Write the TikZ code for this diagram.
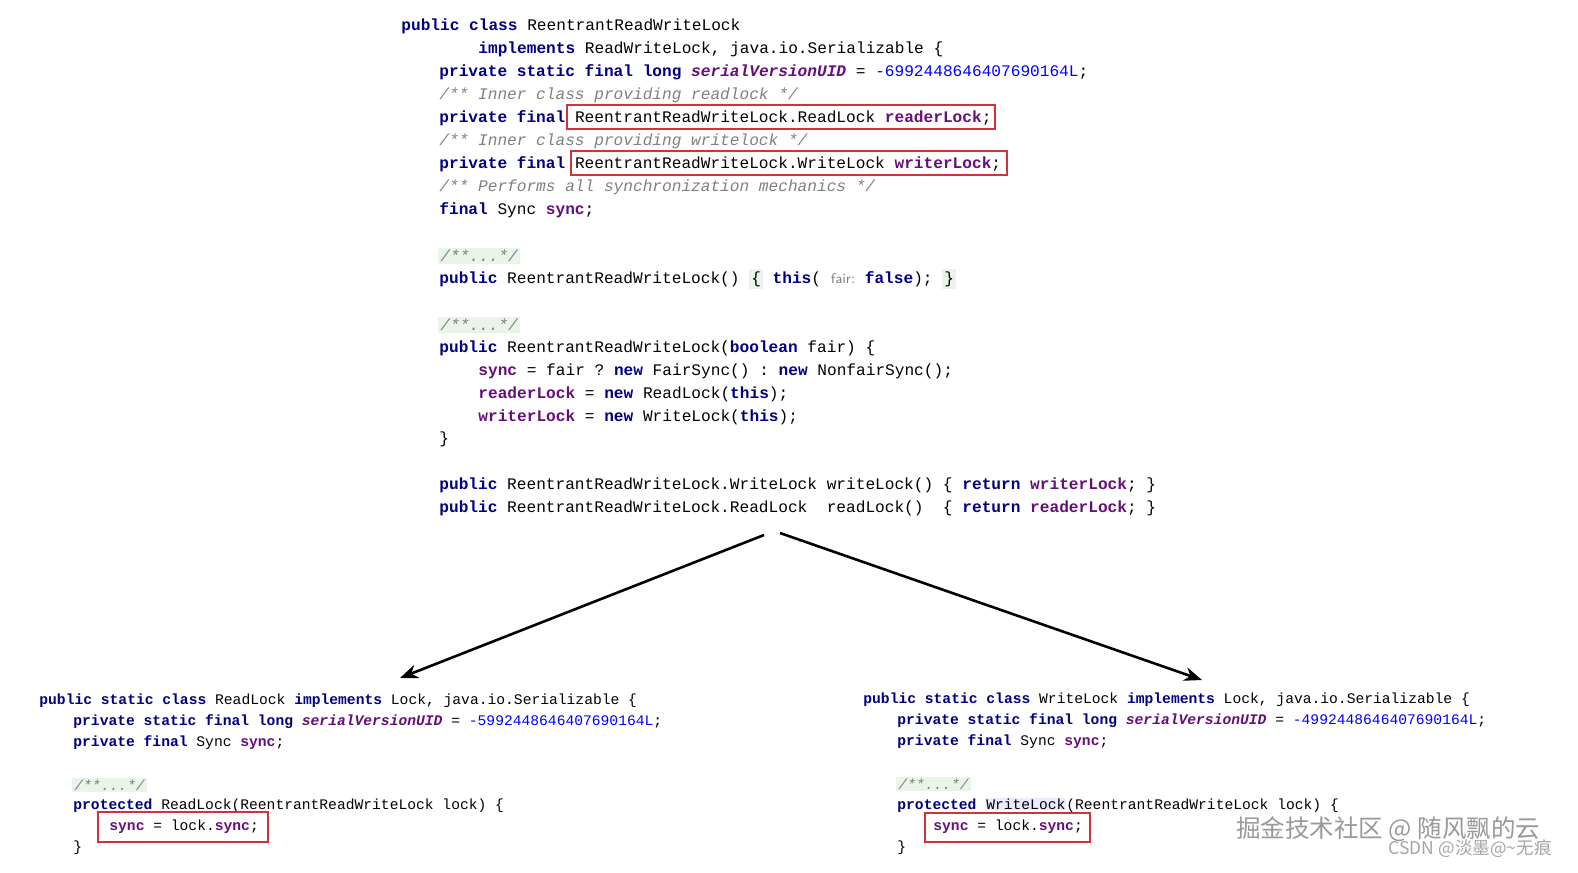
\documentclass[tikz,border=0pt]{standalone}
\usepackage{fontspec}
\usetikzlibrary{arrows.meta}
\setmonofont{Liberation Mono}
\newfontfamily\cjkf{Noto Sans CJK SC}
\definecolor{kwc}{HTML}{000080}
\definecolor{fdc}{HTML}{660E7A}
\definecolor{nmc}{HTML}{0000FF}
\definecolor{cmc}{HTML}{808080}
\definecolor{hlg}{HTML}{EAF5EA}
\definecolor{boxred}{HTML}{D0343A}
\newcommand\Kw[1]{{\bfseries\color{kwc}#1}}
\newcommand\Fd[1]{{\bfseries\color{fdc}#1}}
\newcommand\Fi[1]{{\bfseries\itshape\color{fdc}#1}}
\newcommand\Nm[1]{{\color{nmc}#1}}
\newcommand\Cm[1]{{\itshape\color{cmc}#1}}
\newcommand\Hl[1]{{\setlength\fboxsep{1pt}\colorbox{hlg}{#1}}}
\newcommand\topf{\ttfamily\fontsize{8.1}{10}\selectfont}
\newcommand\botf{\ttfamily\fontsize{7.35}{9}\selectfont}
\begin{document}
\begin{tikzpicture}[x=0.5bp,y=-0.5bp,
  top/.style={anchor=west,inner sep=0,font=\topf},
  bot/.style={anchor=west,inner sep=0,font=\botf},
  rbox/.style={draw=boxred,line width=0.8pt},
  arr/.style={-{Stealth[length=9pt,width=7pt]},line width=1.3pt}]
\useasboundingbox[fill=white] (0,0) rectangle (1578,872);
% top block
\node[top] (t1) at (401,26) {\Kw{public class} ReentrantReadWriteLock};
\node[top] (t2) at (478,49) {\Kw{implements} ReadWriteLock, java.io.Serializable \{};
\node[top] (t3) at (439,72) {\Kw{private static final long} \Fi{serialVersionUID} = \Nm{-6992448646407690164L};};
\node[top] (t4) at (439,95) {\Cm{/** Inner class providing readlock */}};
\node[top] (t5) at (439,118) {\Kw{private final} ReentrantReadWriteLock.ReadLock \Fd{readerLock};};
\node[top] (t6) at (439,141) {\Cm{/** Inner class providing writelock */}};
\node[top] (t7) at (439,164) {\Kw{private final} ReentrantReadWriteLock.WriteLock \Fd{writerLock};};
\node[top] (t8) at (439,187) {\Cm{/** Performs all synchronization mechanics */}};
\node[top] (t9) at (439,210) {\Kw{final} Sync \Fd{sync};};
\node[top] (t10) at (438,256) {\Hl{\Cm{/**...*/}}};
\node[top] (t11) at (439,279) {\Kw{public} ReentrantReadWriteLock() \Hl{\{} \Kw{this}( {\sffamily\fontsize{7}{8}\selectfont\color{cmc}fair:} \Kw{false}); \Hl{\}}};
\node[top] (t12) at (438,325) {\Hl{\Cm{/**...*/}}};
\node[top] (t13) at (439,348) {\Kw{public} ReentrantReadWriteLock(\Kw{boolean} fair) \{};
\node[top] (t14) at (478,371) {\Fd{sync} = fair ? \Kw{new} FairSync() : \Kw{new} NonfairSync();};
\node[top] (t15) at (478,394) {\Fd{readerLock} = \Kw{new} ReadLock(\Kw{this});};
\node[top] (t16) at (478,417) {\Fd{writerLock} = \Kw{new} WriteLock(\Kw{this});};
\node[top] (t17) at (439,439) {\}};
\node[top] (t18) at (439,485) {\Kw{public} ReentrantReadWriteLock.WriteLock writeLock() \{ \Kw{return} \Fd{writerLock}; \}};
\node[top] (t19) at (439,508) {\Kw{public} ReentrantReadWriteLock.ReadLock~~readLock()~~\{ \Kw{return} \Fd{readerLock}; \}};
\draw[rbox] (567,105) rectangle (995,129);
\draw[rbox] (571,151) rectangle (1007,175);
% bottom left
\node[bot] (l1) at (39,701) {\Kw{public static class} ReadLock \Kw{implements} Lock, java.io.Serializable \{};
\node[bot] (l2) at (73,722) {\Kw{private static final long} \Fi{serialVersionUID} = \Nm{-5992448646407690164L};};
\node[bot] (l3) at (73,743) {\Kw{private final} Sync \Fd{sync};};
\node[bot] (l4) at (72,785) {\Hl{\Cm{/**...*/}}};
\node[bot] (l5) at (73,806) {\Kw{protected} ReadLock(ReentrantReadWriteLock lock) \{};
\node[bot] (l6) at (109,827) {\Fd{sync} = lock.\Fd{sync};};
\node[bot] (l7) at (73,848) {\}};
\draw[rbox] (98,812) rectangle (268,842);
% bottom right
\node[bot] (r1) at (863,700) {\Kw{public static class} WriteLock \Kw{implements} Lock, java.io.Serializable \{};
\node[bot] (r2) at (897,721) {\Kw{private static final long} \Fi{serialVersionUID} = \Nm{-4992448646407690164L};};
\node[bot] (r3) at (897,742) {\Kw{private final} Sync \Fd{sync};};
\node[bot] (r4) at (896,784) {\Hl{\Cm{/**...*/}}};
\node[bot] (r5) at (897,805) {\Kw{protected} {\setlength\fboxsep{0.5pt}\colorbox{blue!8}{WriteLock}}(ReentrantReadWriteLock lock) \{};
\node[bot] (r6) at (933,827) {\Fd{sync} = lock.\Fd{sync};};
\node[bot] (r7) at (897,848) {\}};
\draw[rbox] (925,813) rectangle (1090,842);
% arrows
\coordinate (s1) at (764,535);
\coordinate (e1) at (400,678);
\coordinate (s2) at (780,533);
\coordinate (e2) at (1202,680);
\draw[arr] (s1) -- (e1);
\draw[arr] (s2) -- (e2);
% watermarks
\node[anchor=west,inner sep=0,font=\cjkf\fontsize{12.3}{14}\selectfont,text=black!40] (w1) at (1236,829) {掘金技术社区 @ 随风飘的云};
\node[anchor=east,inner sep=0,font=\cjkf\fontsize{8.8}{10}\selectfont,text=black!35] (w2) at (1552,849) {CSDN @淡墨@\textasciitilde 无痕};
\end{tikzpicture}
\end{document}
